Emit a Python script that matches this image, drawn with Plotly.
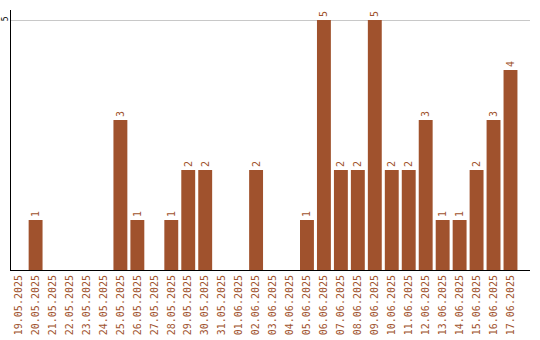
import plotly.graph_objects as go

dates = ["19.05.2025","20.05.2025","21.05.2025","22.05.2025","23.05.2025","24.05.2025",
         "25.05.2025","26.05.2025","27.05.2025","28.05.2025","29.05.2025","30.05.2025",
         "31.05.2025","01.06.2025","02.06.2025","03.06.2025","04.06.2025","05.06.2025",
         "06.06.2025","07.06.2025","08.06.2025","09.06.2025","10.06.2025","11.06.2025",
         "12.06.2025","13.06.2025","14.06.2025","15.06.2025","16.06.2025","17.06.2025"]
counts = [0,1,0,0,0,0,3,1,0,1,2,2,0,0,2,0,0,1,5,2,2,5,2,2,3,1,1,2,3,4]

color = "#A0522D"
labels = [str(v) if v else "" for v in counts]

fig = go.Figure(go.Bar(
    x=dates, y=counts, marker_color=color, marker_line_width=0,
    text=labels, textposition="outside", textangle=-90,
    textfont=dict(family="DejaVu Sans Mono", size=10, color=color),
    constraintext="none", cliponaxis=False,
))
fig.update_layout(
    width=540, height=340, margin=dict(l=11, r=10, t=10, b=70),
    paper_bgcolor="white", plot_bgcolor="white", bargap=0.18,
    showlegend=False,
    font=dict(family="DejaVu Sans Mono", size=10),
)
fig.update_xaxes(
    type="category", range=[-0.45, 30.15], showline=True, linecolor="black", linewidth=1,
    tickangle=-90, tickfont=dict(family="DejaVu Sans Mono", size=10, color=color),
    showgrid=False, ticks="", automargin=False,
)
fig.update_yaxes(
    range=[0, 5.2], tickvals=[5], ticktext=["5"], tickangle=-90,
    tickfont=dict(family="DejaVu Sans Mono", size=8, color="black"),
    ticklabelstandoff=-1,
    showline=True, linecolor="black", linewidth=1, showgrid=True, gridcolor="#C8C8C8",
    zeroline=False, ticks="", automargin=False,
)
fig.write_html("out.html")
